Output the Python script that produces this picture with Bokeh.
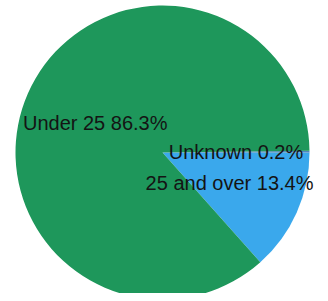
import math
from bokeh.plotting import figure
from bokeh.models import Range1d, ColumnDataSource
from bokeh.core.properties import value
from bokeh.embed import file_html
from bokeh.resources import INLINE

# Data
categories = ["25 and over", "Unknown", "Under 25"]
percent = [13.4, 0.2, 86.3]
colors = ["#3aa8ec", "#4d86bd", "#1e975b"]

# Layout (reference pixel space; data y = 301 - pixel y)
W, H = 320, 293
cx, cy, R = 162, 301 - 152, 147

total = sum(percent)
start0 = -2 * math.pi * percent[0] / total
starts, ends, mids = [], [], []
a = start0
for v in percent:
    span = 2 * math.pi * v / total
    starts.append(a)
    ends.append(a + span)
    mids.append(a + span / 2)
    a += span

labels = [f"{c} {v}%" for c, v in zip(categories, percent)]
lx = [cx + 0.5 * R * math.cos(m) for m in mids]
ly = [cy + 0.5 * R * math.sin(m) for m in mids]

src = ColumnDataSource(dict(cat=categories, start=starts, end=ends, color=colors,
                            label=labels, lx=lx, ly=ly))

p = figure(width=W, height=H, output_backend="svg", toolbar_location=None,
           x_range=Range1d(0, W), y_range=Range1d(301 - H, 301),
           min_border=0)
p.axis.visible = False
p.grid.visible = False
p.outline_line_color = None
p.background_fill_color = "white"
p.border_fill_color = "white"

p.wedge(x=cx, y=cy, radius=R, start_angle="start", end_angle="end",
        fill_color="color", line_color=None, source=src)

p.text(x="lx", y="ly", text="label", source=src, text_align="center",
       text_baseline="middle", text_font=value("Liberation Sans"),
       text_font_size="20px", text_color="#141414")

open("out.html", "w").write(file_html(p, INLINE))
